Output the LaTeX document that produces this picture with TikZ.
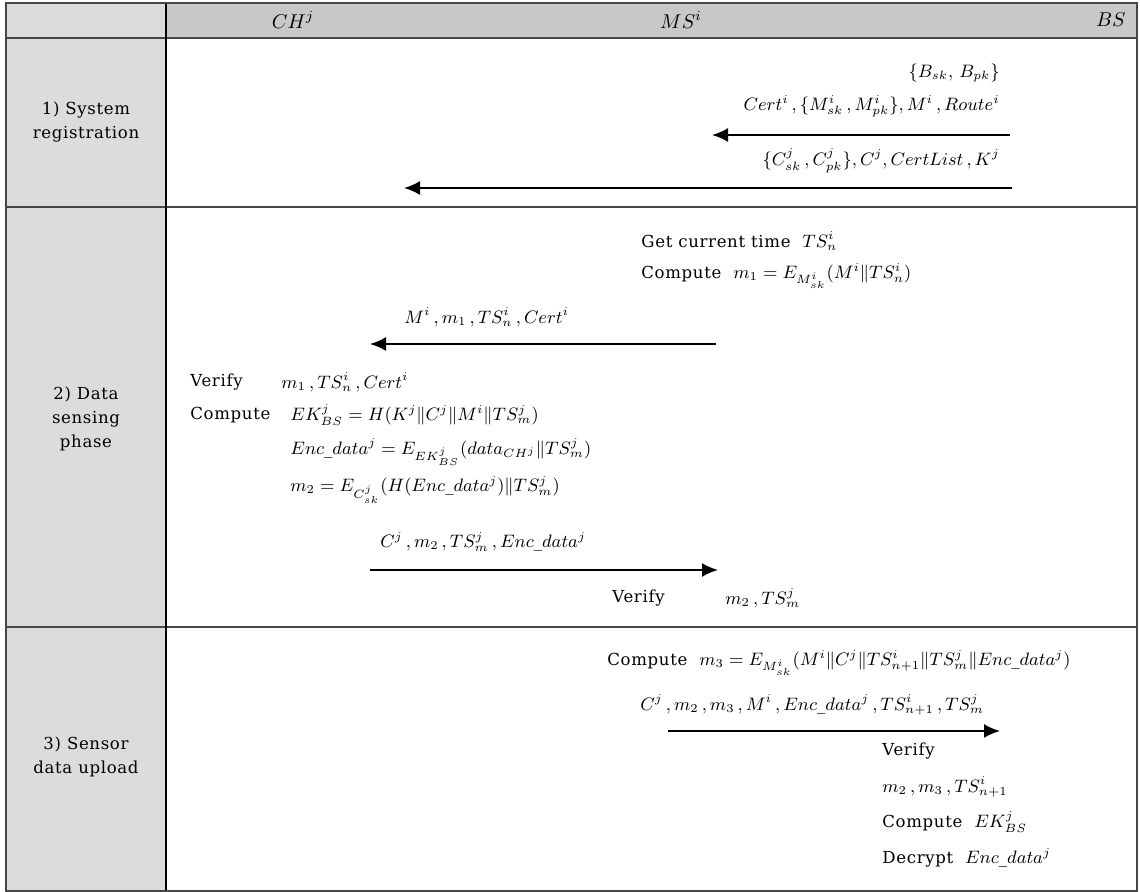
\documentclass[tikz,border=0pt]{standalone}
\usepackage{amsmath}
\usepackage{fontspec}
\usepackage{tikz}
\usetikzlibrary{arrows.meta}
\usepackage{xcolor}
\newfontfamily\bodyfont{DejaVu Serif}[LetterSpace=4, Scale=0.92]
\definecolor{headgray}{RGB}{200,200,200}
\definecolor{phasegray}{RGB}{220,220,220}
\definecolor{rulegray}{RGB}{70,70,70}
\tikzset{
    msg/.style={draw=black, line width=1pt, -{Latex[length=8pt,width=7pt]}},
    lbl/.style={anchor=west, inner sep=0pt, font=\fontsize{9}{10}\selectfont\bodyfont},
    lblr/.style={lbl, anchor=east},
    phase/.style={align=center, inner sep=0pt, font=\fontsize{9}{12}\selectfont\bodyfont},
    actor/.style={inner sep=0pt, font=\fontsize{10}{12}\selectfont}
}

\begin{document}
\begin{tikzpicture}[x=0.5pt, y=-0.5pt]
    \useasboundingbox (0,0) rectangle (1140,892);
    % table background
    \fill[phasegray] (6,3) rectangle (166,891);
    \fill[headgray] (166,3) rectangle (1137,38);
    \draw[rulegray, line width=0.6pt] (6,38) -- (1137,38);
    \draw[rulegray, line width=0.6pt] (6,207) -- (1137,207);
    \draw[rulegray, line width=0.6pt] (6,627) -- (1137,627);
    \draw[black, line width=0.6pt] (166,3) -- (166,891);
    \draw[rulegray, line width=0.9pt] (6,3) rectangle (1137,891);

    % header
    \node[actor] (ch) at (293,20) {$CH^j$};
    \node[actor] (ms) at (681,20) {$MS^i$};
    \node[actor, anchor=east] (bs) at (1126,20) {$BS$};

    % phase labels
    \node[phase] (p1) at (86,122) {1) System\\registration};
    \node[phase] (p2) at (86,419) {2) Data\\sensing\\phase};
    \node[phase] (p3) at (86,757) {3) Sensor\\data upload};

    % 1) system registration
    \node[lblr] (bkeys) at (1000,73) {$\{B_{sk},\, B_{pk}\}$};
    \node[lblr] (mkeys) at (1000,106) {$Cert^i\,,\{M^i_{sk}\,, M^i_{pk}\}, M^i\,, Route^i$};
    \coordinate (bs1) at (1010,135);
    \coordinate (ms1) at (712,135);
    \draw[msg] (bs1) -- (ms1);
    \node[lblr] (ckeys) at (1000,161) {$\{C^j_{sk}\,, C^j_{pk}\}, C^j, CertList\,, K^j$};
    \coordinate (bs2) at (1012,188);
    \coordinate (ch2) at (404,188);
    \draw[msg] (bs2) -- (ch2);

    % 2) data sensing phase
    \node[lbl] (gettime) at (641,241) {Get current time \ $TS^i_n$};
    \node[lbl] (cmpm1) at (641,276) {Compute \ $m_1 = E_{M^i_{sk}}(M^i \| TS^i_n)$};
    \node[lbl] (msg1) at (404,317) {$M^i\,, m_1\,, TS^i_n\,, Cert^i$};
    \coordinate (ms3) at (716,344);
    \coordinate (ch3) at (370,344);
    \draw[msg] (ms3) -- (ch3);
    \node[lbl] (vfy1) at (190,382) {Verify};
    \node[lbl] (vfy1a) at (281,382) {$m_1\,, TS^i_n\,, Cert^i$};
    \node[lbl] (cmp1) at (190,415) {Compute};
    \node[lbl] (ekbs) at (290,415) {$EK^j_{BS} = H(K^j \| C^j \| M^i \| TS^j_m)$};
    \node[lbl] (encd) at (290,452) {$Enc\_data^j = E_{EK^j_{BS}}(data_{CH^j} \| TS^j_m)$};
    \node[lbl] (cmpm2) at (290,490) {$m_2 = E_{C^j_{sk}}(H(Enc\_data^j) \| TS^j_m)$};
    \node[lbl] (msg2) at (380,542) {$C^j\,, m_2\,, TS^j_m\,, Enc\_data^j$};
    \coordinate (ch4) at (370,570);
    \coordinate (ms4) at (718,570);
    \draw[msg] (ch4) -- (ms4);
    \node[lbl] (vfy2) at (612,598) {Verify};
    \node[lbl] (vfy2a) at (725,598) {$m_2\,, TS^j_m$};

    % 3) sensor data upload
    \node[lbl] (cmpm3) at (607,663) {Compute \ $m_3 = E_{M^i_{sk}}(M^i \| C^j \| TS^i_{n+1} \| TS^j_m \| Enc\_data^j)$};
    \node[lbl] (msg3) at (640,705) {$C^j\,, m_2\,, m_3\,, M^i\,, Enc\_data^j\,, TS^i_{n+1}\,, TS^j_m$};
    \coordinate (ms5) at (668,731);
    \coordinate (bs5) at (1000,731);
    \draw[msg] (ms5) -- (bs5);
    \node[lbl] (vfy3) at (882,751) {Verify};
    \node[lbl] (vfy3a) at (882,787) {$m_2\,, m_3\,, TS^i_{n+1}$};
    \node[lbl] (cmp3) at (882,822) {Compute \ $EK^j_{BS}$};
    \node[lbl] (dcr3) at (882,858) {Decrypt \ $Enc\_data^j$};
\end{tikzpicture}
\end{document}
